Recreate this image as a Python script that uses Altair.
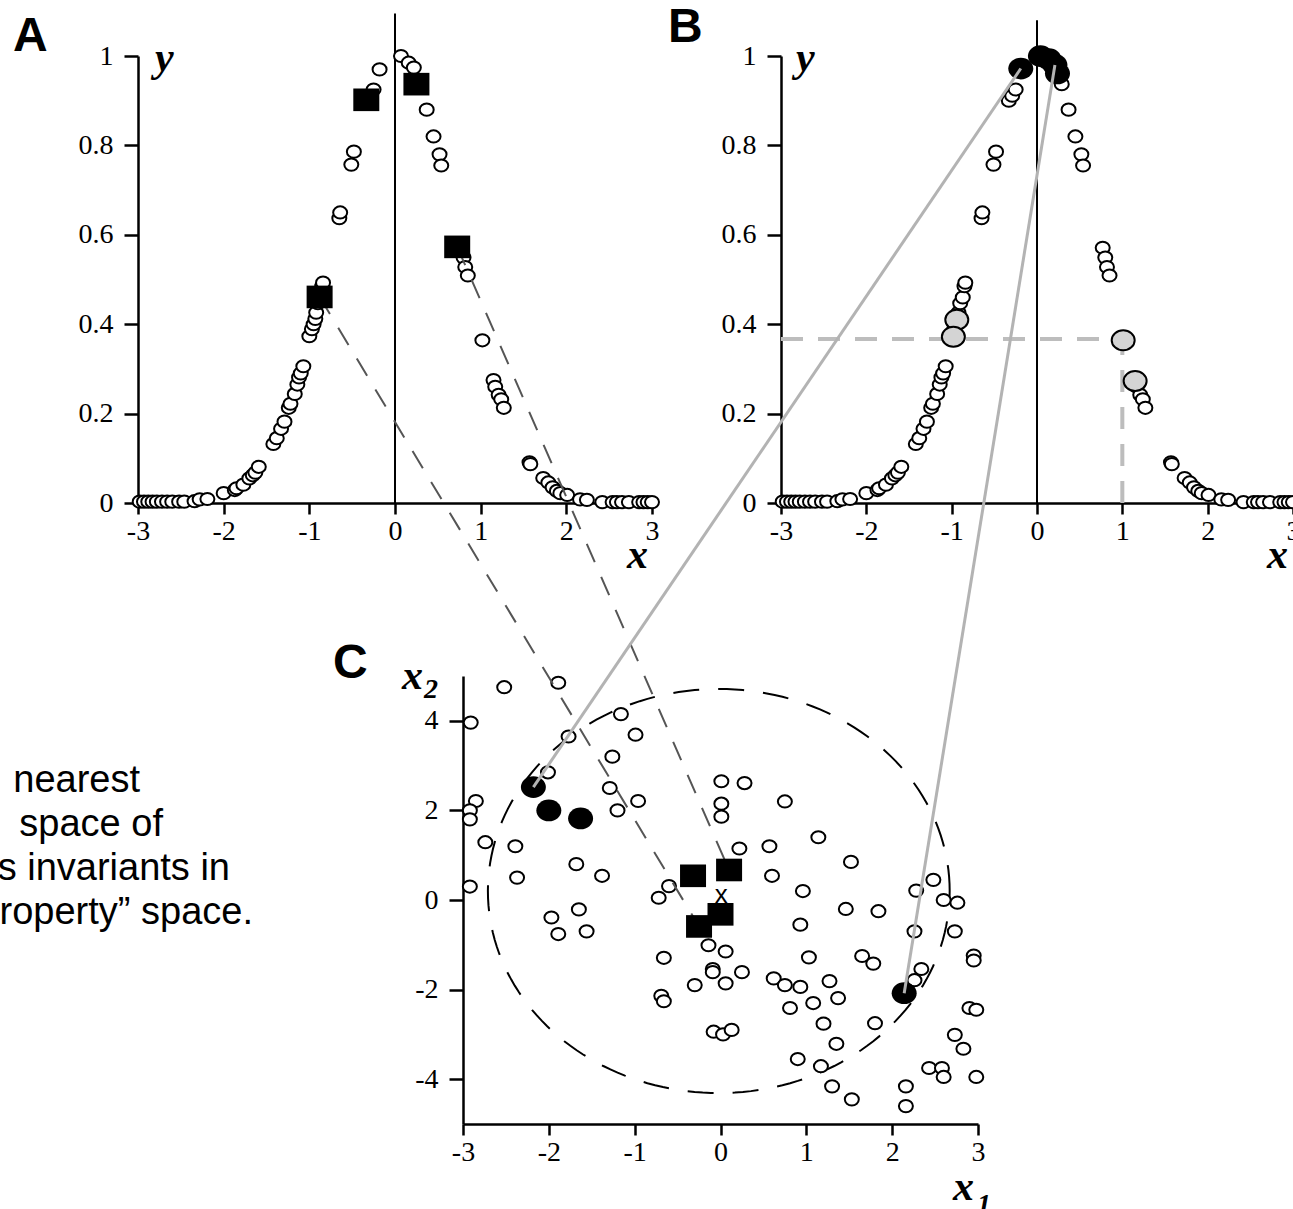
import altair as alt
import numpy as np
import pandas as pd

W, H = 1293, 1209

# ---------------- data ----------------
# sampled curve shown in panels A and B
curve_x = [-2.98, -2.93, -2.88, -2.83, -2.78, -2.72, -2.66, -2.60, -2.52, -2.46,
           -2.34, -2.28, -2.19, -2.00, -1.87, -1.85, -1.77, -1.70, -1.66, -1.63,
           -1.59, -1.42, -1.38, -1.33, -1.29, -1.24, -1.22, -1.17, -1.14, -1.12,
           -1.10, -1.07, -1.00, -0.97, -0.95, -0.93, -0.92, -0.90, -0.87, -0.85,
           -0.84, -0.65, -0.64, -0.51, -0.48, -0.33, -0.29, -0.25, -0.18, 0.07,
           0.16, 0.22, 0.29, 0.37, 0.45, 0.52, 0.54, 0.77, 0.80, 0.82,
           0.85, 1.02, 1.15, 1.17, 1.21, 1.24, 1.27, 1.57, 1.58, 1.73,
           1.79, 1.84, 1.89, 1.93, 2.01, 2.16, 2.24, 2.42, 2.54, 2.59,
           2.65, 2.73, 2.85, 2.90, 2.95, 3.00]
curve_y = [0.003, 0.003, 0.003, 0.003, 0.003, 0.003, 0.003, 0.003, 0.003, 0.003,
           0.004, 0.008, 0.009, 0.022, 0.029, 0.033, 0.041, 0.055, 0.062, 0.068,
           0.081, 0.132, 0.145, 0.166, 0.182, 0.213, 0.222, 0.244, 0.265, 0.281,
           0.290, 0.306, 0.373, 0.389, 0.400, 0.412, 0.426, 0.447, 0.460, 0.485,
           0.493, 0.637, 0.650, 0.757, 0.786, 0.900, 0.911, 0.925, 0.970, 1.000,
           0.985, 0.974, 0.937, 0.880, 0.820, 0.780, 0.755, 0.571, 0.549, 0.528,
           0.509, 0.364, 0.275, 0.260, 0.242, 0.232, 0.213, 0.091, 0.087, 0.056,
           0.046, 0.035, 0.027, 0.022, 0.018, 0.008, 0.007, 0.002, 0.002, 0.002,
           0.002, 0.002, 0.002, 0.002, 0.002, 0.002]

A_square_x = [-0.335, 0.25, 0.726, -0.88]
A_square_y = [0.902, 0.937, 0.573, 0.461]
A_zero_top = 1.095

B_black_x = [-0.19, 0.04, 0.14, 0.21, 0.24]
B_black_y = [0.972, 1.0, 0.993, 0.98, 0.961]
B_grey_x = [-0.94, -0.98, 1.01, 1.15]
B_grey_y = [0.41, 0.372, 0.364, 0.273]
B_level_x = 1.0
B_level_y = 0.367
B_zero_top = 1.08

C_open_x = [-2.52, -1.89, -2.91, -1.16, -1.77, -0.99, -1.26, -2.01, -1.29, -2.85,
            -2.92, -2.92, -1.20, -0.96, -2.74, -2.39, -2.37, -2.92, -1.68, -1.38,
            -1.97, -1.65, -1.89, -1.56, -0.60, -0.72, 0.01, 0.28, 0.01, 0.01,
            0.22, 0.75, 0.57, 0.60, 1.14, 1.52, 0.96, 0.93, 1.46, 1.84,
            2.48, 2.28, 2.60, 2.76, 2.26, 2.73, 1.03, 1.65, 1.78, 2.95,
            2.95, 2.34, 2.26, -0.14, 0.06, -0.66, -0.09, -0.09, 0.06, 0.25,
            -0.30, -0.69, -0.66, 0.62, 0.75, 0.93, 1.27, 1.08, 1.37, 0.81,
            1.20, 1.80, 1.35, -0.08, 0.03, 0.13, 0.90, 1.17, 1.30, 1.53,
            2.16, 2.16, 2.73, 2.83, 2.43, 2.58, 2.60, 2.98, 2.90, 2.98]
C_open_y = [4.75, 4.85, 3.96, 4.15, 3.65, 3.69, 3.20, 2.85, 2.50, 2.21,
            2.00, 1.80, 2.00, 2.21, 1.29, 1.20, 0.50, 0.30, 0.80, 0.54,
            -0.39, -0.21, -0.76, -0.70, 0.31, 0.05, 2.65, 2.61, 2.15, 1.86,
            1.15, 2.20, 1.20, 0.54, 1.40, 0.85, 0.20, -0.55, -0.20, -0.25,
            0.45, 0.21, 0.00, -0.06, -0.70, -0.70, -1.28, -1.25, -1.42, -1.24,
            -1.35, -1.54, -1.79, -1.01, -1.15, -1.29, -1.54, -1.61, -1.86, -1.61,
            -1.90, -2.14, -2.26, -1.75, -1.90, -1.94, -1.81, -2.30, -2.19, -2.41,
            -2.76, -2.75, -3.21, -2.94, -3.00, -2.90, -3.55, -3.71, -4.16, -4.45,
            -4.16, -4.60, -3.01, -3.32, -3.75, -3.75, -3.95, -3.95, -2.41, -2.45]
C_black_x = [-2.18, -2.00, -1.63, 2.14]
C_black_y = [2.52, 2.00, 1.82, -2.08]
C_square_x = [-0.32, 0.10, 0.00, -0.25]
C_square_y = [0.54, 0.67, -0.32, -0.59]
C_query_x = [0.01]
C_query_y = [0.12]
C_query_label = ["x"]
C_hood_center = [-0.02, 0.20]
C_hood_semi = [2.69, 4.51]

# links between panels: (index in A squares, index in C squares) and (B black, C black)
dashed_links = [(3, 3), (2, 1)]
grey_links = [(0, 0), (3, 3)]

X_TICKS = [-3, -2, -1, 0, 1, 2, 3]
AB_Y_TICKS = [0, 0.2, 0.4, 0.6, 0.8, 1]
C_Y_TICKS = [-4, -2, 0, 2, 4]

side_text = ["nearest", "space of", "as invariants in", "\u201cproperty\u201d space."]

# ---------------- layout ----------------
PANELS = {
    "A": dict(xr=[138, 652], yr=[503, 56], xd=[-3, 3], yd=[0, 1], yt=AB_Y_TICKS),
    "B": dict(xr=[781, 1293], yr=[503, 56], xd=[-3, 3], yd=[0, 1], yt=AB_Y_TICKS),
    "C": dict(xr=[463, 978], yr=[1124, 676], xd=[-3, 3], yd=[-5, 5], yt=C_Y_TICKS),
}

LABEL_EXPR = "datum.value < 0 ? '-' + format(-datum.value, '~g') : format(datum.value, '~g')"
AX = dict(grid=False, domainColor="black", domainWidth=2.5, tickColor="black",
          tickWidth=2.5, labelFont="Liberation Serif", labelFontSize=28,
          labelColor="black", title=None, labelOverlap=False, labelFlush=False,
          labelExpr=LABEL_EXPR)

K = 0.87   # vertical squash of the symbols in the reference
C_ = 0.5523
ELL = (f"M 1 0 C 1 {C_*K:.4f} {C_:.4f} {K} 0 {K} "
       f"C {-C_:.4f} {K} -1 {C_*K:.4f} -1 0 "
       f"C -1 {-C_*K:.4f} {-C_:.4f} {-K} 0 {-K} "
       f"C {C_:.4f} {-K} 1 {-C_*K:.4f} 1 0 Z")
RECT = f"M -1 {-K} L 1 {-K} L 1 {K} L -1 {K} Z"


def enc(panel, axes=False):
    p = PANELS[panel]
    xs = alt.Scale(domain=p["xd"], range=p["xr"], zero=False, nice=False)
    ys = alt.Scale(domain=p["yd"], range=p["yr"], zero=False, nice=False)
    if axes:
        xa = alt.Axis(orient="bottom", offset=p["yr"][0] - H, values=X_TICKS,
                      tickSize=11, labelPadding=3, **AX)
        ya = alt.Axis(orient="left", offset=-p["xr"][0], values=p["yt"],
                      tickSize=14, labelPadding=11, **AX)
        return dict(x=alt.X("x:Q", scale=xs, axis=xa), y=alt.Y("y:Q", scale=ys, axis=ya))
    return dict(x=alt.X("x:Q", scale=xs, axis=None), y=alt.Y("y:Q", scale=ys, axis=None))


def to_page(panel, x, y):
    p = PANELS[panel]
    fx = p["xr"][0] + (x - p["xd"][0]) / (p["xd"][1] - p["xd"][0]) * (p["xr"][1] - p["xr"][0])
    fy = p["yr"][0] + (y - p["yd"][0]) / (p["yd"][1] - p["yd"][0]) * (p["yr"][1] - p["yr"][0])
    return fx, fy


def page_enc():
    return dict(
        x=alt.X("px:Q", scale=alt.Scale(domain=[0, W], range=[0, W], zero=False, nice=False), axis=None),
        y=alt.Y("py:Q", scale=alt.Scale(domain=[0, H], range=[0, H], zero=False, nice=False), axis=None),
    )


def page_enc2():
    d = page_enc()
    d["x2"] = alt.X2("px2:Q")
    d["y2"] = alt.Y2("py2:Q")
    return d


def pts(xs, ys):
    return pd.DataFrame({"x": xs, "y": ys})


def symbol(df, panel, shape, size, fill, stroke=None, sw=0, axes=False):
    kw = dict(shape=shape, size=size, filled=True, fill=fill, opacity=1)
    if stroke is not None:
        kw.update(stroke=stroke, strokeWidth=sw)
    else:
        kw.update(strokeWidth=0)
    return alt.Chart(df).mark_point(**kw).encode(**enc(panel, axes))


def text_layer(texts, xs, ys, **kw):
    df = pd.DataFrame({"t": texts, "px": xs, "py": ys})
    return alt.Chart(df).mark_text(**kw).encode(**page_enc(), text="t:N")


curve = pts(curve_x, curve_y)
layers = []

# ---- panel A ----
layers.append(alt.Chart(pd.DataFrame({"x": [0], "y": [0], "y2": [A_zero_top]}))
              .mark_rule(color="black", strokeWidth=2)
              .encode(**enc("A"), y2="y2:Q"))
layers.append(symbol(curve, "A", ELL, 196, "white", "black", 2, axes=True))

# ---- panel B ----
layers.append(alt.Chart(pd.DataFrame({"x": [0], "y": [0], "y2": [B_zero_top]}))
              .mark_rule(color="black", strokeWidth=2)
              .encode(**enc("B"), y2="y2:Q"))
lvl = pd.DataFrame({"x": [-3, B_level_x], "x2": [B_level_x, B_level_x],
                    "y": [B_level_y, 0], "y2": [B_level_y, B_level_y]})
layers.append(alt.Chart(lvl).mark_rule(color="#bdbdbd", strokeWidth=4, strokeDash=[22, 15])
              .encode(**enc("B"), x2="x2:Q", y2="y2:Q"))
layers.append(symbol(curve, "B", ELL, 196, "white", "black", 2, axes=True))
layers.append(symbol(pts(B_grey_x, B_grey_y), "B", ELL, 529, "#d4d4d4", "black", 2))
layers.append(symbol(pts(B_black_x, B_black_y), "B", ELL, 625, "black"))

# ---- panel C ----
t = np.linspace(0, 2 * np.pi, 181)
hood = pd.DataFrame({"x": C_hood_center[0] + C_hood_semi[0] * np.cos(t),
                     "y": C_hood_center[1] + C_hood_semi[1] * np.sin(t),
                     "i": np.arange(len(t))})
layers.append(alt.Chart(hood).mark_line(color="black", strokeWidth=2, strokeDash=[26, 19])
              .encode(**enc("C"), order="i:Q"))
layers.append(symbol(pts(C_open_x, C_open_y), "C", ELL, 196, "white", "black", 2, axes=True))
layers.append(symbol(pts(C_black_x, C_black_y), "C", ELL, 625, "black"))

# ---- dashed links A squares -> C squares ----
rows = []
for a, c in dashed_links:
    x1, y1 = to_page("A", A_square_x[a], A_square_y[a])
    x2, y2 = to_page("C", C_square_x[c], C_square_y[c])
    rows.append({"px": x1, "py": y1, "px2": x2, "py2": y2})
layers.append(alt.Chart(pd.DataFrame(rows)).mark_rule(color="#555555", strokeWidth=2, strokeDash=[20, 16])
              .encode(**page_enc2()))

layers.append(symbol(pts(A_square_x, A_square_y), "A", RECT, 676, "black"))
layers.append(symbol(pts(C_square_x, C_square_y), "C", RECT, 676, "black"))
layers.append(alt.Chart(pd.DataFrame({"x": C_query_x, "y": C_query_y, "t": C_query_label}))
              .mark_text(font="Liberation Sans", fontSize=26, color="black", align="center", baseline="middle")
              .encode(**enc("C"), text="t:N"))

# ---- grey links B black -> C black ----
rows = []
for b, c in grey_links:
    x1, y1 = to_page("B", B_black_x[b], B_black_y[b])
    x2, y2 = to_page("C", C_black_x[c], C_black_y[c])
    rows.append({"px": x1, "py": y1, "px2": x2, "py2": y2})
layers.append(alt.Chart(pd.DataFrame(rows)).mark_rule(color="#b3b3b3", strokeWidth=3)
              .encode(**page_enc2()))

# ---- text annotations ----
layers.append(text_layer(["A", "B", "C"], [13, 668, 333], [51, 42, 678],
                         font="Liberation Sans", fontSize=48, fontWeight="bold",
                         align="left", baseline="alphabetic", color="black"))
layers.append(text_layer(["y", "x", "y", "x", "x", "x"],
                         [155, 627, 796, 1267, 402, 953],
                         [71, 568, 71, 568, 689, 1200],
                         font="Liberation Serif", fontSize=42, fontWeight="bold", fontStyle="italic",
                         align="left", baseline="alphabetic", color="black"))
layers.append(text_layer(["2", "1"], [424, 977], [698, 1213],
                         font="Liberation Serif", fontSize=28, fontWeight="bold", fontStyle="italic",
                         align="left", baseline="alphabetic", color="black"))
layers.append(text_layer(side_text, [140, 163, 230, 253], [792, 836, 880, 924],
                         font="Liberation Sans", fontSize=38, align="right",
                         baseline="alphabetic", color="black"))

chart = (alt.layer(*layers)
         .resolve_scale(x="independent", y="independent")
         .properties(width=W, height=H, padding=0, background="white",
                     autosize=alt.AutoSizeParams(type="none"))
         .configure_view(stroke=None))

chart.save("out.html", embed_options={"renderer": "svg", "actions": False})
